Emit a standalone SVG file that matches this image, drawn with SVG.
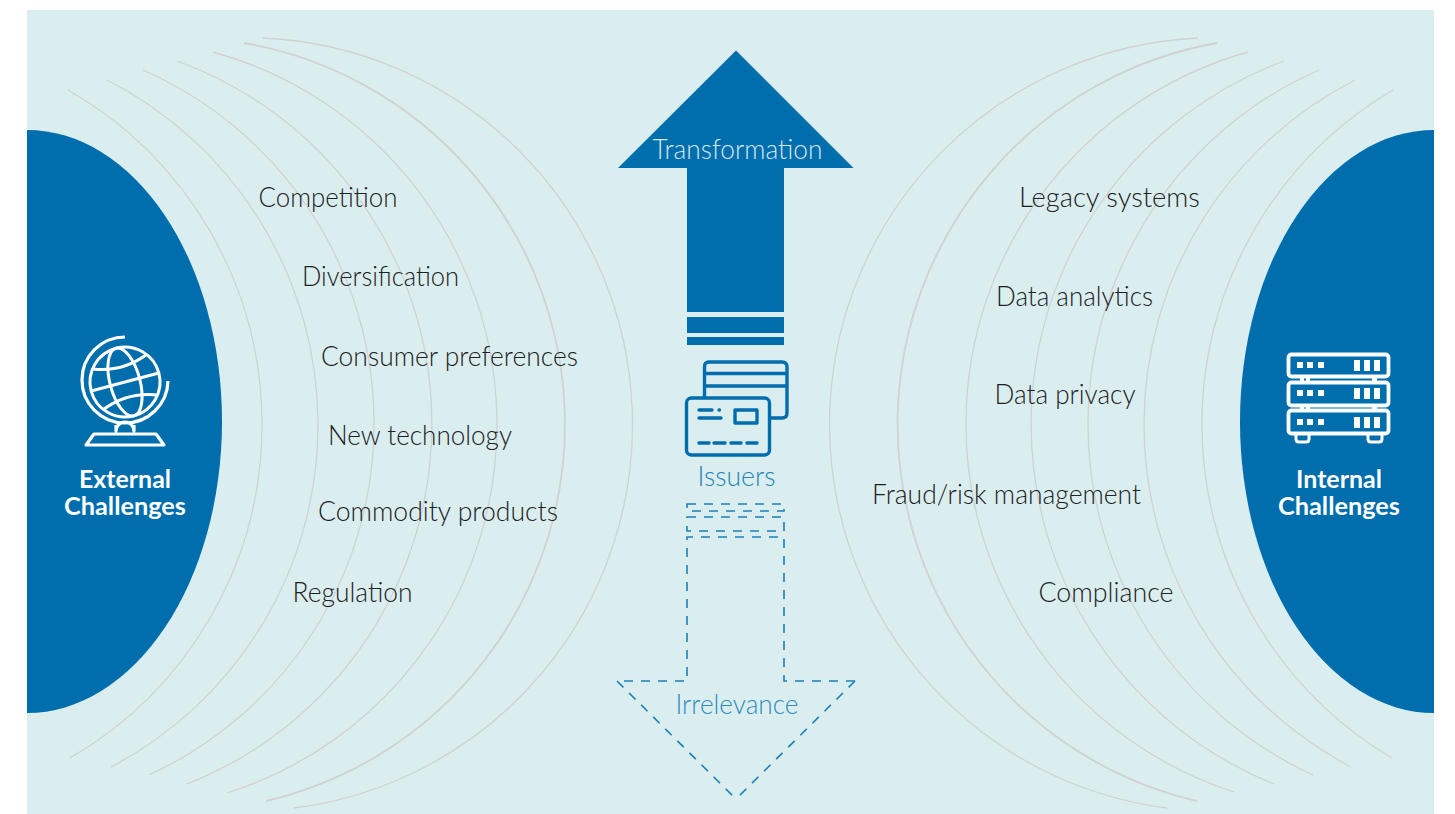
<svg xmlns="http://www.w3.org/2000/svg" width="1455" height="814" viewBox="0 0 1455 814">
<style>
.arc{fill:none;stroke:#d0d1d2;stroke-width:1.3}
.arc.b{stroke-width:1.8}
.lab{font-family:"Lato","Liberation Sans",sans-serif;font-weight:300;font-size:26.500px;fill:#1c2124}
.head{font-family:"Lato","Liberation Sans",sans-serif;font-weight:700;font-size:24px;fill:#fff;text-anchor:middle}
.ic{fill:none;stroke:#fff;stroke-width:3.200;stroke-linejoin:round}
.ib{fill:none;stroke:#006eac;stroke-width:3.400;stroke-linejoin:round}
.dash{fill:none;stroke:#1a80ba;stroke-width:1.6;stroke-dasharray:9 8}
</style>
<rect width="1455" height="814" fill="#fff"/>
<rect x="27" y="10" width="1407" height="804" fill="#daeef0"/>
<g id="arcs">
<path class="arc" d="M68 90A385.500 385.500 0 0 1 70 758"/>
<path class="arc" d="M107 80A386.800 386.800 0 0 1 111 767"/>
<path class="arc" d="M143 70A386.500 386.500 0 0 1 149 775"/>
<path class="arc" d="M177 61A386.500 386.500 0 0 1 187 784"/>
<path class="arc" d="M213 52A386.400 386.400 0 0 1 227 793"/>
<path class="arc b" d="M244 43A386.900 386.900 0 0 1 266 801"/>
<path class="arc" d="M263 38A386.700 386.700 0 0 1 294 808"/>
<path class="arc" d="M1393 90A388 388 0 0 0 1392 758"/>
<path class="arc" d="M1355 80A386.800 386.800 0 0 0 1351 767"/>
<path class="arc" d="M1319 70A386.500 386.500 0 0 0 1313 775"/>
<path class="arc" d="M1284 61A387.600 387.600 0 0 0 1274 784"/>
<path class="arc" d="M1248 52A386.500 386.500 0 0 0 1234 792"/>
<path class="arc b" d="M1217 43A387 387 0 0 0 1197 801"/>
<path class="arc" d="M1198 38A386.800 386.800 0 0 0 1167 808"/>
</g>
<g id="external">
<path d="M27 130A195 291.500 0 0 1 27 713Z" fill="#006eac"/>
<g transform="rotate(-15 125 382)" class="ic" style="stroke-width:3">
<circle cx="125" cy="382" r="35"/>
<ellipse cx="125" cy="382" rx="15" ry="35"/>
<path d="M90 382H160M97 361Q125 372 153 361M97 403Q125 392 153 403"/>
</g>
<path class="ic" d="M125 337A43 43 0 1 0 168 381"/>
<path class="ic" d="M116 425V431A9 9 0 0 1 134 431V425M94 434H156L164 445H86Z"/>
<text class="head" x="125" y="488" textLength="92" lengthAdjust="spacingAndGlyphs">External</text>
<text class="head" x="125" y="515" textLength="122" lengthAdjust="spacingAndGlyphs">Challenges</text>
</g>
<g id="internal">
<path d="M1434 130A194 291.500 0 0 0 1434 713Z" fill="#006eac"/>
<g class="ic" style="stroke-width:3.800">
<rect x="1288.500" y="354.500" width="100" height="22" rx="3"/>
<rect x="1288.500" y="382.500" width="100" height="23" rx="3"/>
<rect x="1288.500" y="410.500" width="100" height="23" rx="3"/>
<path d="M1296 435V439Q1296 442 1299 442H1306Q1309 442 1309 439V435M1368 435V439Q1368 442 1371 442H1379Q1382 442 1382 439V435" style="stroke-width:3"/>
</g>
<g fill="#fff">
<path d="M1300 378h4v3h-4zM1306 378h4v3h-4zM1372 378h5v3h-5zM1300 406h4v3h-4zM1306 406h4v3h-4zM1372 406h5v3h-5z"/>
<path d="M1297 362h6v6h-6zM1307 362h6v6h-6zM1318 362h6v6h-6zM1354 360h6v11h-6zM1364 360h6v11h-6zM1374 360h6v11h-6z"/>
<path d="M1297 390h6v6h-6zM1307 390h6v6h-6zM1318 390h6v6h-6zM1354 388h6v11h-6zM1364 388h6v11h-6zM1374 388h6v11h-6z"/>
<path d="M1297 419h6v6h-6zM1307 419h6v6h-6zM1318 419h6v6h-6zM1354 417h6v11h-6zM1364 417h6v11h-6zM1374 417h6v11h-6z"/>
</g>
<text class="head" x="1339" y="488" textLength="86" lengthAdjust="spacingAndGlyphs">Internal</text>
<text class="head" x="1339" y="515" textLength="122" lengthAdjust="spacingAndGlyphs">Challenges</text>
</g>
<g id="labels-external">
<text class="lab" x="258.500" y="206.500" textLength="139" lengthAdjust="spacingAndGlyphs">Competition</text>
<text class="lab" x="302" y="285.500" textLength="157" lengthAdjust="spacingAndGlyphs">Diversification</text>
<text class="lab" x="321" y="365.500" textLength="257" lengthAdjust="spacingAndGlyphs">Consumer preferences</text>
<text class="lab" x="328" y="445" textLength="184" lengthAdjust="spacingAndGlyphs">New technology</text>
<text class="lab" x="318" y="521" textLength="240" lengthAdjust="spacingAndGlyphs">Commodity products</text>
<text class="lab" x="292.500" y="601.500" textLength="120" lengthAdjust="spacingAndGlyphs">Regulation</text>
</g>
<g id="labels-internal">
<text class="lab" x="1019" y="206.500" textLength="181" lengthAdjust="spacingAndGlyphs">Legacy systems</text>
<text class="lab" x="996" y="306" textLength="157" lengthAdjust="spacingAndGlyphs">Data analytics</text>
<text class="lab" x="994.500" y="404" textLength="141" lengthAdjust="spacingAndGlyphs">Data privacy</text>
<text class="lab" x="872" y="503.500" textLength="269" lengthAdjust="spacingAndGlyphs">Fraud/risk management</text>
<text class="lab" x="1038.500" y="601.500" textLength="135" lengthAdjust="spacingAndGlyphs">Compliance</text>
</g>
<g id="transformation">
<path d="M736 50.500L853.500 168H784V312H687V168H618Z" fill="#006eac"/>
<rect x="687" y="317" width="97" height="16" fill="#006eac"/>
<rect x="687" y="337" width="97" height="8" fill="#006eac"/>
<text class="lab" x="652.500" y="158.500" textLength="170" lengthAdjust="spacingAndGlyphs" style="fill:#d3e8f1">Transformation</text>
</g>
<g id="issuers">
<path class="ib" d="M704.500 397V367Q704.500 362 709 362H782Q787 362 787 367V413Q787 418 782 418H770M704.500 373.500H787M704.500 386H787"/>
<rect class="ib" x="686.500" y="398" width="83" height="57" rx="5"/>
<rect class="ib" x="735" y="410" width="22" height="13"/>
<path d="M699 410H712M719 410H719.500M699 418H721M699 443H709M714 443H725M731 443H741M747 443H757" fill="none" stroke="#006eac" stroke-width="3.400" stroke-linecap="round"/>
<text class="lab" x="697.500" y="486" textLength="78" lengthAdjust="spacingAndGlyphs" style="fill:#2485b9">Issuers</text>
</g>
<g id="irrelevance">
<rect class="dash" x="687" y="504" width="97" height="7"/>
<rect class="dash" x="687" y="517" width="97" height="14"/>
<path class="dash" d="M855 681H784V537H687V681H617"/>
<path class="dash" d="M617 681L736 799"/>
<path class="dash" d="M855 681L736 799"/>
<text class="lab" x="675.500" y="713.500" textLength="123" lengthAdjust="spacingAndGlyphs" style="fill:#2f8bbd">Irrelevance</text>
</g>
</svg>
